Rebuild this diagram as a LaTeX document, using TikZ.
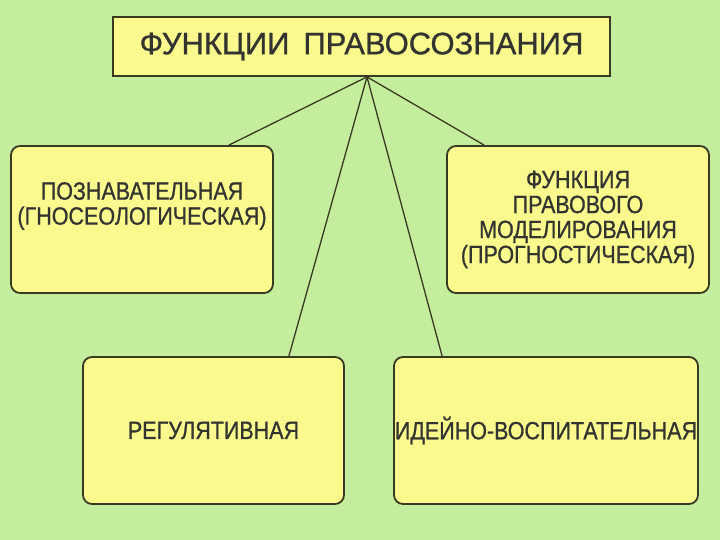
\documentclass[tikz,border=0pt]{standalone}
\usepackage{fontspec}
\setmainfont{Liberation Sans}[FakeStretch=0.86, FakeBold=0.8]
\newfontfamily\titlefont{Liberation Sans}[FakeBold=0.8]
\usepackage{tikz}
\usetikzlibrary{positioning}
\usepackage{xcolor}
\definecolor{bggreen}{HTML}{C4EE9E}
\definecolor{boxyellow}{HTML}{F9F98E}
\definecolor{edgeolive}{HTML}{3A3A22}
\definecolor{textgray}{HTML}{333330}
\tikzset{
  titlebox/.style={draw=edgeolive, fill=boxyellow, line width=1.8pt, align=center, inner sep=0pt, minimum width=497pt, minimum height=59pt, font=\titlefont\fontsize{31}{36}\selectfont, text=textgray},
  funcbox/.style={draw=edgeolive, fill=boxyellow, line width=1.8pt, rounded corners=9pt, align=center, inner sep=0pt, minimum width=262pt, minimum height=147pt, font=\fontsize{25}{25}\selectfont, text=textgray},
  link/.style={draw=edgeolive, line width=1.3pt}
}
\begin{document}
\begin{tikzpicture}[x=1pt, y=-1pt]
\fill[bggreen] (0,0) rectangle (720,540);
\useasboundingbox (0,0) rectangle (720,540);
\node[titlebox] (title) at (361.5,46.5) {ФУНКЦИИ\hspace{14pt}ПРАВОСОЗНАНИЯ};
\node[funcbox] (cogn) at (142,219.5) {};
\node[text=textgray, font=\fontsize{25}{25}\selectfont, align=center] (cogntext) at (142,206) {ПОЗНАВАТЕЛЬНАЯ\\(ГНОСЕОЛОГИЧЕСКАЯ)};
\node[funcbox] (model) at (578,219.5) {ФУНКЦИЯ\\ПРАВОВОГО\\МОДЕЛИРОВАНИЯ\\(ПРОГНОСТИЧЕСКАЯ)};
\node[funcbox, minimum width=261pt] (regul) at (213.5,430.5) {РЕГУЛЯТИВНАЯ};
\node[funcbox, minimum width=304pt] (educ) at (546,430.5) {ИДЕЙНО-ВОСПИТАТЕЛЬНАЯ};
\coordinate (apex) at ([xshift=5.5pt]title.south);
\draw[link] (apex) -- ([xshift=-45pt]cogn.north east);
\draw[link] (apex) -- ([xshift=38pt]model.north west);
\draw[link] (apex) -- ([xshift=-56pt]regul.north east);
\draw[link] (apex) -- ([xshift=49pt]educ.north west);
\end{tikzpicture}
\end{document}
